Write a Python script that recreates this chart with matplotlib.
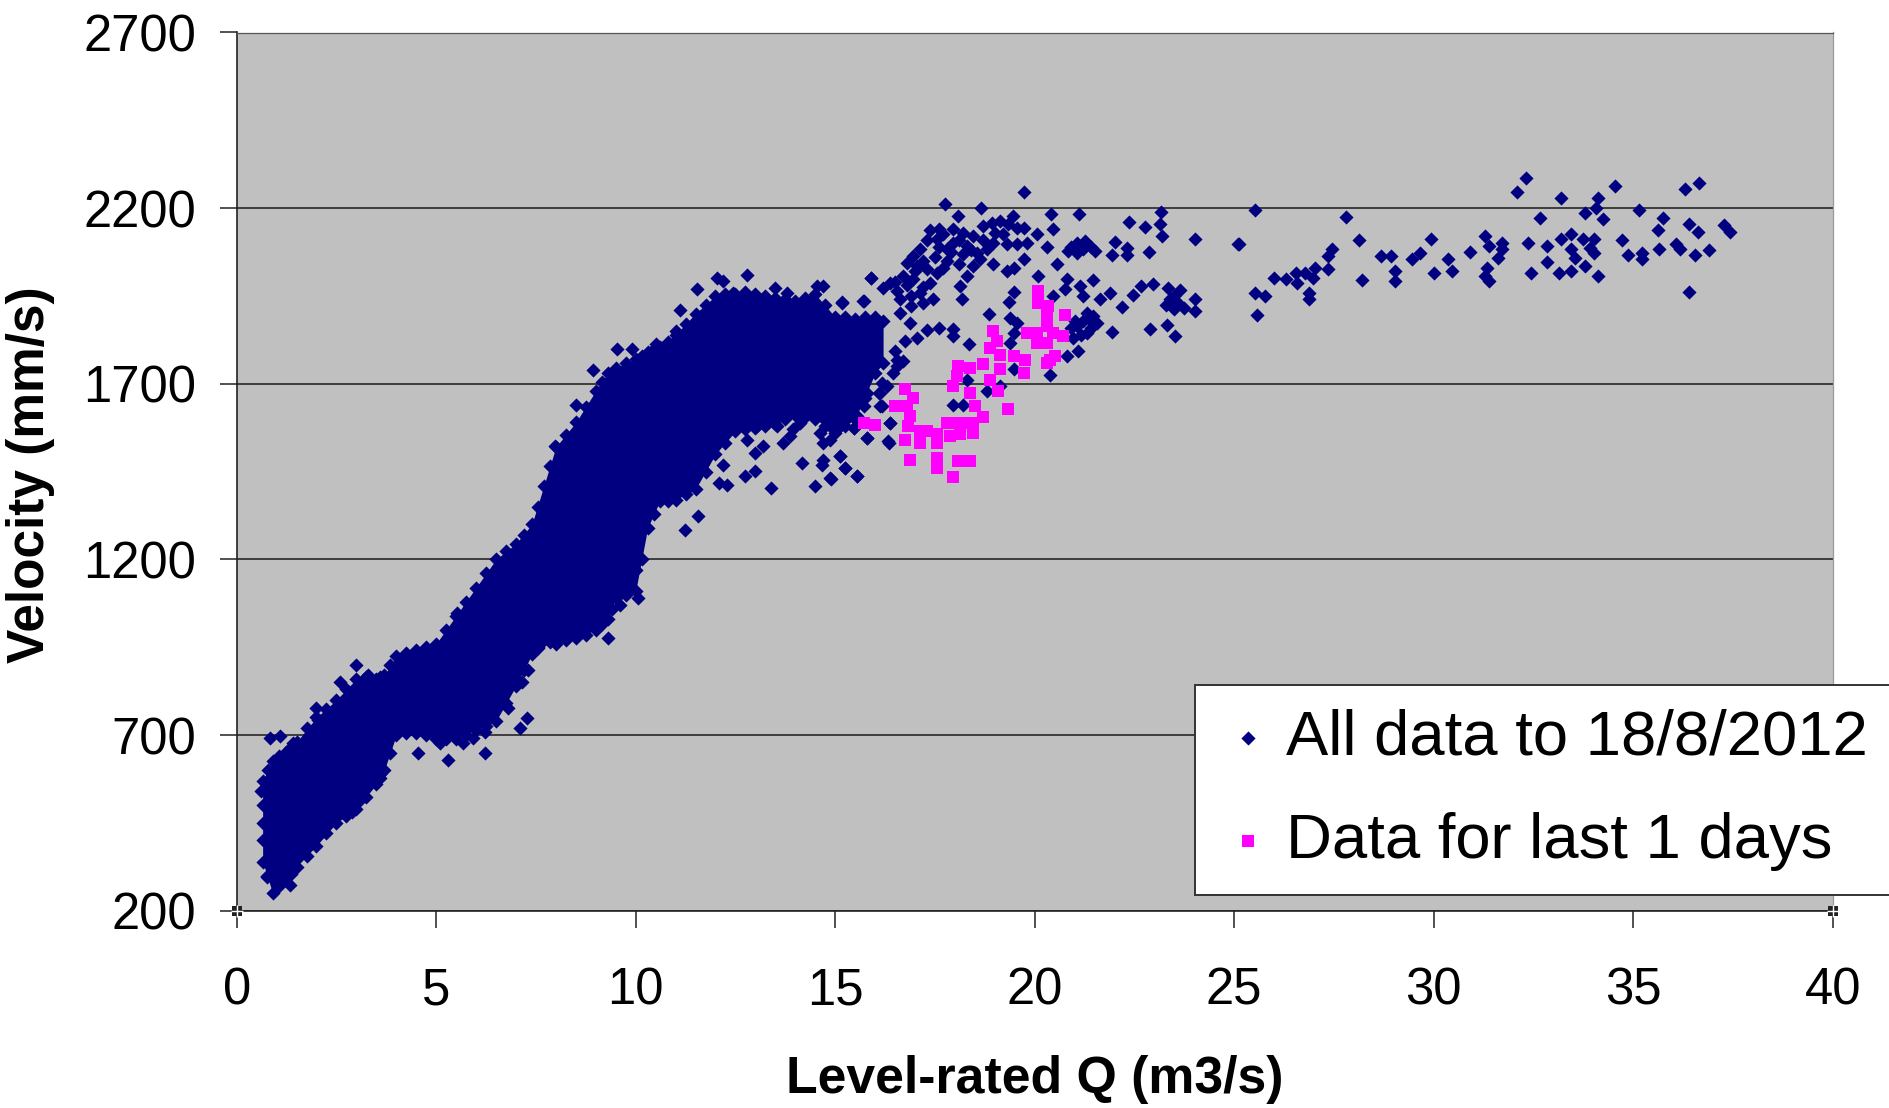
import matplotlib
matplotlib.use("Agg")
import matplotlib.pyplot as plt

plt.rcParams['font.family'] = ['Liberation Sans', 'DejaVu Sans']

x_ticks = [0, 5, 10, 15, 20, 25, 30, 35, 40]
y_ticks = [200, 700, 1200, 1700, 2200, 2700]
x_title = "Level-rated Q (m3/s)"
y_title = "Velocity (mm/s)"
all_label = "All data to 18/8/2012"
last_label = "Data for last 1 days"

# Saturated part of the cloud: lower and upper edge
core_q = [0.65, 0.9, 1.2, 1.5, 2.0, 2.5, 3.0, 3.5, 3.7, 4.0, 4.5, 5.0, 5.5, 6.0, 6.5, 7.0, 7.4, 7.7, 8.0, 8.5,
          9.0, 9.3, 9.5, 10.0, 10.3, 10.6, 11.0, 11.5, 12.0, 12.5, 13.0, 13.5, 14.0, 14.5, 15.0, 15.5, 16.0, 16.2]
core_low = [340, 250, 290, 325, 385, 450, 490, 560, 600, 700, 705, 690, 690, 715, 740, 840, 930, 970, 960, 975,
            1000, 1030, 1090, 1110, 1290, 1365, 1370, 1400, 1500, 1565, 1575, 1585, 1610, 1600, 1560, 1600, 1730, 1760]
core_high = [570, 625, 650, 680, 750, 800, 860, 860, 870, 925, 943, 960, 1040, 1120, 1200, 1245, 1300, 1410, 1520, 1590,
             1680, 1730, 1745, 1770, 1790, 1805, 1840, 1900, 1950, 1955, 1955, 1945, 1935, 1955, 1890, 1885, 1890, 1880]

# Points along the edge of the saturated part
edge_q = [0.78, 1.05, 1.35, 1.75, 2.25, 2.75, 3.25, 3.6, 3.85, 4.25, 4.75, 5.25, 5.75, 6.25, 6.75, 7.2, 7.55, 7.85,
          8.25, 8.75, 9.15, 9.75, 10.15, 10.45, 10.8, 11.25, 11.75, 12.25, 12.75, 13.25, 13.75, 14.25, 14.75, 15.25, 15.75,
          0.75, 1.05, 1.35, 1.75, 2.25, 2.75, 3.25, 3.6, 3.85, 4.25, 4.75, 5.25, 5.75, 6.25, 6.75, 7.2, 7.55, 7.85,
          8.25, 8.75, 9.15, 9.4, 9.75, 10.15, 10.45, 10.8, 11.25, 11.75, 12.25, 12.75, 13.25, 13.75, 14.25, 14.75, 15.25, 15.75,
          0.65, 0.65, 0.65, 0.62]
edge_v = [600, 640, 665, 720, 775, 830, 865, 865, 900, 935, 950, 1000, 1080, 1160, 1225, 1270, 1350, 1465,
          1555, 1635, 1705, 1760, 1780, 1800, 1820, 1870, 1925, 1955, 1960, 1950, 1940, 1945, 1925, 1890, 1890,
          300, 270, 305, 355, 420, 470, 525, 590, 650, 705, 700, 690, 700, 725, 790, 885, 950, 965,
          970, 985, 1015, 1060, 1100, 1200, 1330, 1365, 1385, 1450, 1530, 1570, 1580, 1600, 1605, 1580, 1580, 1660,
          400, 450, 500, 540]

# Separately readable points of the long record
low_q = [0.84, 1.09, 1.42, 1.29, 2.0, 2.59, 3.0, 3.3, 2.05, 3.09, 2.88, 3.59, 3.43, 3.0, 4.55, 5.3, 5.68, 6.22, 6.22,
         5.93, 7.1, 7.27, 6.81, 6.39, 7.31, 7.14, 7.56, 5.51, 0.75, 1.34, 5.1]
low_v = [691, 696, 677, 648, 776, 852, 900, 871, 743, 515, 482, 577, 601, 591, 648, 629, 677, 648, 710,
         691, 719, 748, 776, 757, 886, 850, 947, 1047, 297, 273, 677]

mid_q = [8.94, 9.52, 9.9, 10.5, 11.0, 11.1, 11.53, 12.03, 12.2, 12.78, 12.45, 13.5, 13.78, 14.54, 15.16, 15.7, 15.9,
         8.5, 7.98, 11.57, 11.24, 9.3, 10.0, 10.07, 9.6, 12.1, 12.28, 12.74, 12.99, 13.4, 14.16, 14.5, 14.66, 14.87,
         15.25, 15.54, 15.12, 12.2, 12.99, 13.2, 13.7, 13.95, 14.7, 14.95, 15.46, 15.8, 16.33, 16.37, 16.1, 15.6,
         15.04, 14.3, 12.87, 13.28, 15.12, 15.46, 15.62, 14.87, 15.12, 14.87, 15.29, 15.79, 15.46, 15.96, 14.95, 15.2, 15.54,
         12.78, 13.03, 13.53, 13.87, 13.78, 14.12, 14.62, 14.79, 15.12, 15.29, 15.71, 16.12, 16.46, 16.54, 16.29, 15.79]
mid_v = [1738, 1798, 1798, 1812, 1850, 1911, 1969, 2002, 1992, 2011, 1959, 1973, 1959, 1978, 1930, 1935, 2002,
         1641, 1522, 1323, 1285, 976, 1171, 1090, 1071, 1418, 1413, 1437, 1451, 1403, 1475, 1408, 1470, 1432,
         1460, 1437, 1494, 1470, 1503, 1522, 1532, 1570, 1532, 1570, 1574, 1546, 1536, 1589, 1674, 1665,
         1636, 1665, 1608, 1598, 1655, 1646, 1674, 1598, 1579, 1541, 1693, 1731, 1731, 1750, 1627, 1617, 1608,
         1541, 1579, 1579, 1551, 1608, 1589, 1560, 1598, 1579, 1608, 1636, 1636, 1731, 1769, 1693, 1674]

high_q = [19.72, 17.75, 18.66, 18.09, 19.45, 20.40, 21.12, 23.16, 22.37, 22.77, 23.14, 23.18, 24.02, 25.10, 17.38, 17.59,
          17.54, 17.96, 18.21, 18.46, 17.96, 18.30, 18.71, 18.92, 19.13, 19.34, 19.55, 19.72, 20.05, 20.47, 20.30, 18.96,
          19.30, 19.55, 19.80, 17.79, 18.55, 18.80, 17.13, 16.96, 16.79, 17.04, 17.29, 17.54, 16.71, 16.37, 16.21, 16.54,
          16.96, 17.38, 17.13, 17.46, 16.62, 18.63, 18.46, 18.96, 19.30, 19.47, 19.72, 20.55, 20.09, 20.84, 21.05, 21.26,
          21.05, 21.51, 22.01, 21.93, 22.31, 22.31, 22.87, 15.90, 14.69, 15.16, 15.71, 18.30, 18.13, 18.17, 19.47, 19.36,
          20.80, 20.76, 21.47, 21.14, 21.22, 20.47, 21.64, 21.89, 22.18, 22.47, 22.66, 22.97, 23.35, 23.64, 23.39, 23.48,
          23.73, 24.02, 24.02, 23.31, 22.89, 23.52, 18.86, 19.37, 19.55, 19.47, 19.38, 17.96, 17.96, 18.35, 17.59, 17.29,
          17.04, 16.75, 16.88, 16.62, 16.50, 16.71, 16.54, 21.30, 21.47, 21.05, 21.30, 21.55, 21.09, 20.80, 21.93, 20.38,
          19.48, 18.30, 18.80, 19.13, 17.96, 18.21, 16.17, 16.12, 16.17, 16.37, 15.79, 16.35, 15.46, 15.12, 15.25, 15.54,
          14.90, 14.70, 21.2, 21.4, 21.0, 20.9,
          17.7, 18.1, 17.5, 17.8, 18.1, 17.2, 17.0, 16.8, 16.5, 16.9, 17.2, 17.6, 18.4, 18.7, 19.0, 19.2, 17.3, 17.7, 17.9,
          18.2, 16.9, 17.2, 20.9, 21.2, 21.4, 21.15, 20.95, 21.35, 23.5, 23.6, 23.3]
high_v = [2246, 2213, 2199, 2178, 2178, 2182, 2182, 2189, 2160, 2147, 2154, 2121, 2113, 2097, 2138, 2140,
          2111, 2140, 2130, 2121, 2102, 2092, 2149, 2159, 2163, 2154, 2144, 2144, 2125, 2141, 2090, 2102,
          2097, 2097, 2102, 2083, 2073, 2083, 2083, 2063, 2045, 2035, 2026, 2016, 2007, 1988, 1973, 1964,
          1997, 1988, 1959, 1940, 1940, 2054, 2035, 2040, 2021, 2030, 2054, 2040, 2007, 2078, 2102, 2106,
          2073, 2078, 2103, 2068, 2087, 2068, 2075, 2002, 1978, 1933, 1937, 2007, 1978, 1942, 1961, 1933,
          1999, 1970, 1995, 1978, 1950, 1950, 1940, 1959, 1918, 1952, 1978, 1983, 1973, 1967, 1940, 1912,
          1916, 1940, 1907, 1866, 1855, 1836, 1899, 1888, 1874, 1845, 1817, 1855, 1836, 1814, 1859, 1853,
          1831, 1821, 1874, 1902, 1793, 1764, 1750, 1902, 1893, 1864, 1845, 1874, 1793, 1779, 1847, 1724,
          1743, 1712, 1679, 1693, 1641, 1641, 1703, 1674, 1636, 1589, 1546, 1532, 1574, 1494, 1461, 1437,
          1429, 1484, 1880, 1860, 1880, 1860,
          2125, 2110, 2060, 2050, 2040, 2050, 2020, 1980, 1990, 1950, 1975, 2090, 2080, 2110, 2130, 2125, 2110, 2030, 2075,
          2070, 1920, 1930, 2090, 2085, 2090, 1840, 1830, 1885, 1950, 1930, 1925]

far_q = [25.53, 27.81, 25.12, 28.12, 27.45, 27.35, 27.35, 27.02, 26.97, 26.78, 26.54, 26.58, 26.30, 26.01, 25.53, 25.77,
         26.87, 26.87, 25.58, 28.21, 28.67, 28.93, 29.03, 29.03, 29.46, 29.65, 29.92, 30.02, 30.37, 30.47, 30.92, 31.28,
         31.38, 31.71, 31.71, 31.62, 31.33, 31.28, 31.38, 32.08, 32.32, 33.18, 32.67, 32.37, 32.84, 32.84, 32.43, 33.2,
         33.44, 33.73, 33.44, 33.54, 33.44, 33.15, 33.78, 34.13, 33.78, 34.11, 34.54, 34.06, 34.25, 34.01, 33.92, 34.01,
         34.73, 34.88, 35.23, 35.23, 35.14, 35.74, 35.63, 35.64, 36.08, 36.17, 36.54, 36.89, 36.39, 36.63, 36.29, 36.65,
         36.39, 37.27, 37.42]
far_v = [2195, 2176, 2097, 2108, 2083, 2064, 2026, 2030, 2002, 2016, 2016, 1988, 1997, 2002, 1959, 1950,
         1959, 1940, 1897, 1995, 2064, 2064, 2021, 1992, 2054, 2073, 2111, 2016, 2054, 2021, 2075, 2121,
         2092, 2102, 2083, 2059, 2030, 2007, 1992, 2246, 2285, 2230, 2171, 2102, 2092, 2047, 2016, 2111,
         2125, 2111, 2083, 2057, 2021, 2016, 2035, 2007, 2185, 2230, 2263, 2201, 2168, 2111, 2087, 2073,
         2109, 2068, 2073, 2054, 2195, 2171, 2138, 2085, 2097, 2083, 2066, 2081, 2154, 2132, 2255, 2272,
         1961, 2152, 2132]

# Series for the last day
last_q = [20.09, 20.09, 20.34, 20.30, 20.76, 18.96, 18.88, 19.05, 19.13, 19.47, 19.76, 19.72, 19.80, 20.05, 20.30, 20.47,
          20.72, 20.05, 20.30, 20.38, 20.51, 20.30, 18.09, 18.38, 18.71, 18.05, 17.96, 19.13, 18.88, 19.09, 18.38, 18.50,
          19.34, 16.75, 16.96, 16.50, 16.79, 16.88, 15.71, 16.00, 18.71, 18.46, 18.21, 17.96, 17.79, 18.46, 18.13, 17.88,
          17.54, 17.54, 17.29, 17.13, 17.13, 16.75, 16.83, 16.88, 17.54, 17.54, 18.09, 18.38, 17.96]
last_v = [1964, 1931, 1921, 1897, 1897, 1850, 1802, 1821, 1783, 1779, 1769, 1731, 1845, 1845, 1864, 1845,
          1836, 1817, 1817, 1769, 1779, 1760, 1750, 1745, 1755, 1722, 1693, 1741, 1712, 1679, 1674, 1636,
          1629, 1684, 1660, 1638, 1636, 1608, 1589, 1584, 1606, 1589, 1589, 1589, 1589, 1560, 1556, 1551,
          1556, 1532, 1565, 1532, 1565, 1541, 1579, 1484, 1489, 1461, 1480, 1480, 1435]

corner_q = [0, 40]
corner_v = [200, 200]

NAVY = "#000080"
PINK = "#FF00FF"
W, H = 1890, 1108

fig = plt.figure(figsize=(W / 100, H / 100), dpi=100, facecolor="white")
L, R, T, B = 236.7, 1832.7, 32.5, 910.7
ax = fig.add_axes([L / W, 1 - B / H, (R - L) / W, (B - T) / H], facecolor="#C0C0C0")
ax.set_xlim(0, 40)
ax.set_ylim(200, 2700)
ax.set_axisbelow(True)
ax.set_xticks(x_ticks)
ax.set_yticks(y_ticks)
ax.yaxis.grid(True, color="#1a1a1a", lw=1.1)
ax.tick_params(axis="both", length=12, width=1.1, color="#222222", labelsize=36.6)
ax.tick_params(axis="x", pad=28)
ax.tick_params(axis="y", pad=17)
for side in ("left", "bottom"):
    ax.spines[side].set_color("#222222")
    ax.spines[side].set_linewidth(1.2)
ax.spines["top"].set_color("#555555")
ax.spines["top"].set_linewidth(0.9)
ax.spines["right"].set_color("#9a9a9a")
ax.spines["right"].set_linewidth(0.9)

ax.fill_between(core_q, core_low, core_high, color=NAVY, lw=0, zorder=2)
kw = dict(marker="D", s=52, color=NAVY, linewidths=0, zorder=3)
ax.scatter(core_q, core_low, **kw)
ax.scatter(core_q, core_high, **kw)
ax.scatter(edge_q, edge_v, **kw)
ax.scatter(low_q, low_v, **kw)
ax.scatter(mid_q, mid_v, **kw)
ax.scatter(far_q, far_v, **kw)
h1 = ax.scatter(high_q, high_v, label=all_label, **kw)
h2 = ax.scatter(last_q, last_v, marker="s", s=84, color=PINK, linewidths=0, zorder=4, label=last_label)

ax.scatter(corner_q, corner_v, marker="s", s=42, color="#222222", linewidths=0, zorder=6, clip_on=False)
ax.scatter(corner_q, corner_v, marker="+", s=70, color="white", linewidths=1, zorder=7, clip_on=False)

ax.set_xlabel(x_title, fontsize=37.3, fontweight="bold", va="center")
ax.set_ylabel(y_title, fontsize=37, fontweight="bold", va="center")
ax.xaxis.set_label_coords(0.5, -0.1917)
ax.yaxis.set_label_coords(-0.1295, 0.496)

leg = ax.legend(handles=[h1, h2], loc="lower left",
                bbox_to_anchor=(1195 / W, 1 - 895 / H), bbox_transform=fig.transFigure,
                borderaxespad=0, fontsize=45.6, fancybox=False, framealpha=1, facecolor="white",
                edgecolor="#333333", handletextpad=0.14, handlelength=0.92, labelspacing=0.70,
                borderpad=0.38, scatterpoints=1)
leg.get_frame().set_linewidth(1.4)
leg.set_zorder(10)

fig.savefig("out.png", dpi=100, facecolor="white")
